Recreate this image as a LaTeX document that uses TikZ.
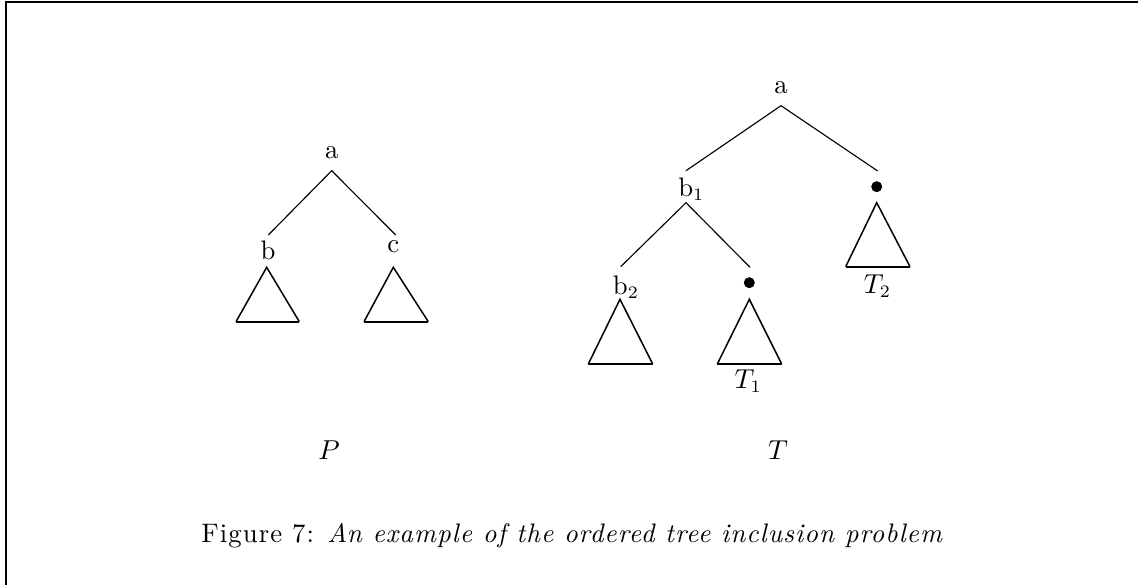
\documentclass[tikz,border=0pt]{standalone}
\usepackage{fontspec}
\setmainfont{Latin Modern Roman}
\begin{document}
\begin{tikzpicture}[x=0.4pt,y=-0.4pt,
  lbl/.style={anchor=base,inner sep=0pt,font=\fontsize{10.7}{13}\selectfont},
  edge/.style={line width=0.45pt},
  side/.style={line width=0.6pt},
  basel/.style={line width=0.9pt},
  leafdot/.style={circle,fill=black,inner sep=0pt,minimum size=4.4pt}]
\useasboundingbox (0,0) rectangle (1138,585);
% frame
\coordinate (fbl) at (6,585);
\coordinate (ftl) at (6,2);
\coordinate (ftr) at (1138,2);
\draw[line width=1pt] (fbl) -- (ftl) -- (ftr);

% ---- pattern tree P ----
\node[lbl] (Pa) at (331.7,158.3) {a};
\node[lbl] (Pb) at (268,260) {b};
\node[lbl] (Pc) at (393.3,252.7) {c};
\coordinate (Pa-s) at (331.7,170.7);
\coordinate (Pb-n) at (268.3,235);
\coordinate (Pc-n) at (395.7,235);
\draw[edge] (Pb-n) -- (Pa-s) -- (Pc-n);
% subtrees
\coordinate (Pbt) at (266.7,267.3);
\draw[side] (236,321.7) -- (Pbt) -- (299.3,321.7);
\draw[basel] (236,321.7) -- (299.3,321.7);
\coordinate (Pct) at (393.3,267.3);
\draw[side] (364,321.7) -- (Pct) -- (428.3,321.7);
\draw[basel] (364,321.7) -- (428.3,321.7);

% ---- text tree T ----
\node[lbl] (Ta) at (781,94) {a};
\node[lbl] (Tb1) at (691.3,196.7) {b$_1$};
\node[lbl] (Tb2) at (626,294.3) {b$_2$};
\node[leafdot] (Td2) at (876.7,186.7) {};
\node[leafdot] (Td1) at (749.3,282.7) {};
\coordinate (Ta-s) at (781,105.7);
\coordinate (Tb1-n) at (686,170.7);
\coordinate (Td2-n) at (877.7,171);
\draw[edge] (Tb1-n) -- (Ta-s) -- (Td2-n);
\coordinate (Tb1-s) at (686,202.7);
\coordinate (Tb2-n) at (620.7,266.7);
\coordinate (Td1-n) at (750,267.3);
\draw[edge] (Tb2-n) -- (Tb1-s) -- (Td1-n);
% subtrees
\coordinate (Tb2t) at (620,299.3);
\draw[side] (588.3,364) -- (Tb2t) -- (652.7,364);
\draw[basel] (588.3,364) -- (652.7,364);
\coordinate (Td1t) at (749.3,299.3);
\draw[side] (717.3,364) -- (Td1t) -- (781.7,364);
\draw[basel] (717.3,364) -- (781.7,364);
\coordinate (Td2t) at (876.7,202.7);
\draw[side] (845.7,266.7) -- (Td2t) -- (910,266.7);
\draw[basel] (845.7,266.7) -- (910,266.7);
\node[lbl] (T1) at (748.3,388.3) {$T_1$};
\node[lbl] (T2) at (877.5,293) {$T_2$};

% ---- tree names ----
\node[lbl] (Pname) at (329,459.3) {$P$};
\node[lbl] (Tname) at (778,459.3) {$T$};

% ---- caption ----
\node[lbl] (cap) at (572.5,542) {\addfontfeatures{LetterSpace=4}Figure 7: \textit{An example of the ordered tree inclusion problem}};
\end{tikzpicture}
\end{document}
